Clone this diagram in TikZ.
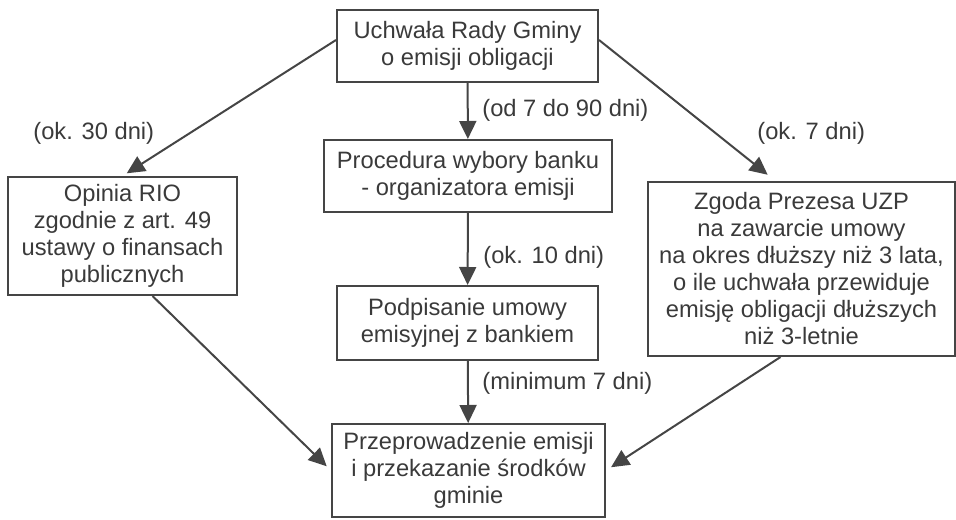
\documentclass[tikz,border=0pt]{standalone}
\usepackage{fontspec}
\setmainfont{Liberation Sans}
\usetikzlibrary{arrows.meta,calc}
\definecolor{linegray}{HTML}{454545}
\definecolor{textgray}{HTML}{3A3A3A}
\tikzset{
	box/.style={draw=linegray,line width=1pt,align=center,inner sep=0pt,text=textgray,font=\fontsize{11.85}{13.5}\selectfont},
	arr/.style={draw=linegray,line width=1pt,-{Triangle[length=9pt,width=8.5pt]}},
	lbl/.style={anchor=west,inner sep=0pt,text=textgray,font=\fontsize{11.85}{13.5}\selectfont}
}
\begin{document}
\begin{tikzpicture}[x=0.5pt,y=-0.5pt]
		\useasboundingbox (0,0) rectangle (956,519);
		\node[box,minimum width=130.5pt,minimum height=36pt] (uchwala) at (467.5,46) {Uchwała Rady Gminy\\o emisji obligacji};
		\node[box,minimum width=114.5pt,minimum height=59pt] (opinia) at (122.5,236) {Opinia RIO\\zgodnie z art. 49\\ustawy o finansach\\publicznych};
		\node[box,minimum width=153.5pt,minimum height=87pt] (zgoda) at (801.5,269) {Zgoda Prezesa UZP\\na zawarcie umowy\\na okres dłuższy niż 3 lata,\\o ile uchwała przewiduje\\emisję obligacji dłuższych\\niż 3-letnie};
		\node[box,minimum width=144pt,minimum height=36pt] (procedura) at (468,176) {Procedura wybory banku\\- organizatora emisji};
		\node[box,minimum width=130.5pt,minimum height=37pt] (umowa) at (467.5,323) {Podpisanie umowy\\emisyjnej z bankiem};
		\node[box,minimum width=136.5pt,minimum height=46.5pt] (emisja) at (468.5,470.5) {Przeprowadzenie emisji\\i przekazanie środków\\gminie};
		\draw[arr,shorten >=2.5pt] ($(uchwala.west)+(0,-6)$) -- (opinia.north);
		\draw[arr,shorten >=5pt] ($(uchwala.east)+(0,-6)$) -- ($(zgoda.north)+(-26,0)$);
		\draw[arr] (uchwala) -- (procedura);
		\draw[arr] (procedura) -- (umowa);
		\draw[arr] (umowa) -- (emisja);
		\draw[arr,shorten >=3pt] ($(opinia.south)+(30,0)$) -- (emisja.west);
		\draw[arr,shorten >=3pt] ($(zgoda.south)+(-21,0)$) -- (emisja.east);
		\node[lbl] (t30) at (33,133) {(ok. 30 dni)};
		\node[lbl] (t90) at (482,110) {(od 7 do 90 dni)};
		\node[lbl] (t7) at (757,133) {(ok. 7 dni)};
		\node[lbl] (t10) at (483,257) {(ok. 10 dni)};
		\node[lbl] (tmin) at (482,383) {(minimum 7 dni)};
	    \end{tikzpicture}
\end{document}
